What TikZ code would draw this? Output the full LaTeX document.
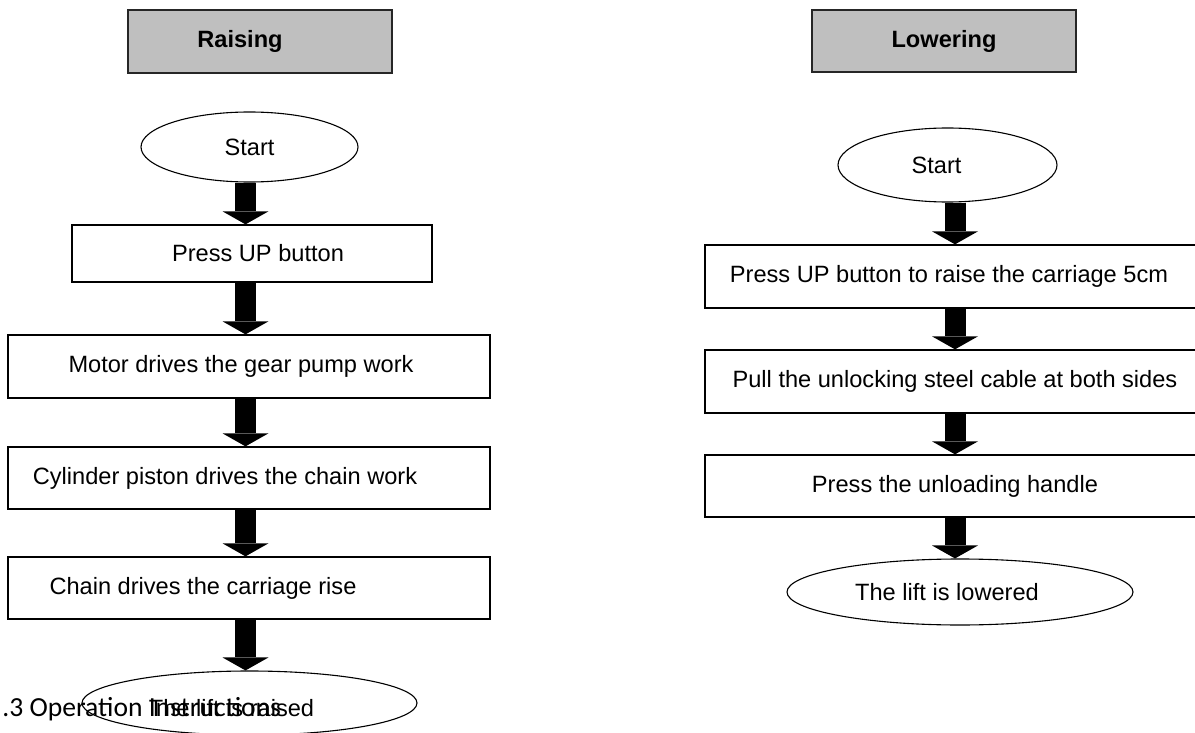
\documentclass[tikz,border=0pt]{standalone}
\usepackage{fontspec}
\setmainfont{Liberation Sans}
\newfontfamily\calibrifont{Carlito}
\usetikzlibrary{shapes.geometric, arrows.meta}
\tikzstyle{header} = [rectangle, draw=black!85, line width=0.8pt, fill=black!25, minimum width=132pt, minimum height=31.5pt, font=\fontsize{11.8}{14}\selectfont\bfseries]
\tikzstyle{stepbox} = [rectangle, draw=black, line width=0.65pt, minimum height=31pt]
\tikzstyle{terminal} = [ellipse, draw=black, line width=0.55pt, inner sep=0pt]
\tikzstyle{fatarrow} = [line width=10.5pt, -{Triangle[width=23pt,length=6.5pt,line width=0pt]}]

\begin{document}
\begin{tikzpicture}[x=0.5pt,y=-0.5pt,font=\fontsize{11.8}{14}\selectfont]
	\useasboundingbox (0,0) rectangle (1195,733);
	\clip (0,0) rectangle (1195,733);
	% raising
	\node[header] (hdrL) at (260,41.5) {\hspace*{-20pt}Raising};
	\node[terminal, minimum width=108.5pt, minimum height=35pt] (s1) at (249.5,147) {Start};
	\node[stepbox, minimum width=180pt, minimum height=28.5pt] (p1) at (252,253.5) {\hspace*{6pt}Press UP button};
	\node[stepbox, minimum width=241pt, minimum height=31.5pt] (m1) at (249,366.5) {\hspace*{-8pt}Motor drives the gear pump work};
	\node[stepbox, minimum width=241pt] (c1) at (249,478) {\hspace*{-24pt}Cylinder piston drives the chain work};
	\node[stepbox, minimum width=241pt] (ch1) at (249,588) {\hspace*{-46pt}Chain drives the carriage rise};
	\node[terminal, minimum width=167.5pt, minimum height=32pt, text height=13pt, text depth=0pt] (e1) at (249.5,703) {\hspace*{-18pt}The lift is raised};
	\coordinate (colL) at (245.5,0);
	\foreach \a/\b in {s1/p1, p1/m1, m1/c1, c1/ch1, ch1/e1}
	\draw[fatarrow] (colL |- \a.south) -- (colL |- \b.north);
	% lowering
	\node[header, minimum height=31pt] (hdrR) at (944,41) {Lowering};
	\node[terminal, minimum width=109.5pt, minimum height=37pt] (s2) at (947.5,165) {\hspace*{-11pt}Start};
	\node[stepbox, minimum width=250pt, minimum height=31.5pt] (b1) at (955,276.5) {\hspace*{-6pt}Press UP button to raise the carriage 5cm};
	\node[stepbox, minimum width=250pt, minimum height=31.5pt] (b2) at (955,381.5) {Pull the unlocking steel cable at both sides};
	\node[stepbox, minimum width=250pt] (b3) at (955,486) {Press the unloading handle};
	\node[terminal, minimum width=173pt, minimum height=33pt] (e2) at (960,592) {\hspace*{-13pt}The lift is lowered};
	\coordinate (colR) at (955,0);
	\foreach \a/\b in {s2/b1, b1/b2, b2/b3, b3/e2}
	\draw[fatarrow] (colR |- \a.south) -- (colR |- \b.north);
	% heading below
	\node[font=\calibrifont\fontsize{13.8}{16}\selectfont, anchor=base west, inner sep=0pt] (opsec) at (2,716) {.3 Operation Instructions};
\end{tikzpicture}
\end{document}
